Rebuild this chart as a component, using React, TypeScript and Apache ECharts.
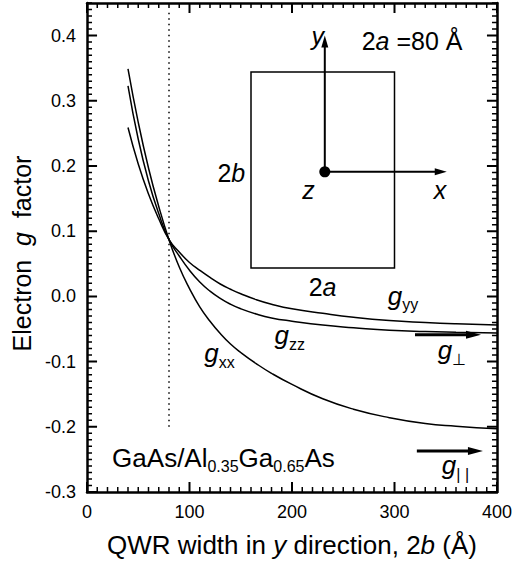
import React, { useEffect, useRef } from 'react';
import * as echarts from 'echarts';

// QWR width 2b (Å)
const widths = [40, 50, 60, 70, 80, 90, 100, 110, 120, 130, 140, 150, 165, 180, 200, 230, 260, 295, 330, 360, 400];
// electron g-factor components
const gxx = [0.349, 0.267, 0.197, 0.138, 0.087, 0.045, 0.012, -0.016, -0.038, -0.057, -0.073, -0.086, -0.103, -0.118, -0.135, -0.157, -0.173, -0.186, -0.195, -0.199, -0.203];
const gzz = [0.323, 0.241, 0.177, 0.127, 0.087, 0.062, 0.040, 0.022, 0.008, -0.003, -0.012, -0.019, -0.027, -0.033, -0.038, -0.044, -0.048, -0.052, -0.054, -0.055, -0.056];
const gyy = [0.259, 0.203, 0.157, 0.119, 0.087, 0.068, 0.052, 0.040, 0.029, 0.019, 0.011, 0.004, -0.005, -0.012, -0.019, -0.026, -0.032, -0.037, -0.040, -0.042, -0.044];
// reference width 2a = 80 Å (dotted line)
const refWidth = 80;
const refLineRange = [-0.2, 0.44];

// axes
const xMin = 0, xMax = 400, xStep = 100, xMinorStep = 10;
const yMin = -0.3, yMax = 0.45, yStep = 0.1, yMinorStep = 0.01;

const FONT = 'Liberation Sans, Arial, Helvetica, sans-serif';

export default function App() {
  const ref = useRef<HTMLDivElement>(null);
  useEffect(() => {
    if (!ref.current) return;
    const chart = echarts.init(ref.current, undefined, { renderer: 'svg' });

    // tick values (major / minor) derived from the axis steps
    const xMajorT: number[] = [], xMinorT: number[] = [], yMajorT: number[] = [], yMinorT: number[] = [];
    for (let k = 0; k <= Math.round((xMax - xMin) / xMinorStep); k++) {
      const v = xMin + k * xMinorStep;
      if (v % xStep === 0) xMajorT.push(v); else xMinorT.push(v);
    }
    for (let k = 0; k <= Math.round((yMax - yMin) / yMinorStep); k++) {
      const v = Math.round((yMin + k * yMinorStep) * 1000) / 1000;
      if (Math.abs(Math.round(v / yStep) * yStep - v) < 1e-6) yMajorT.push(v); else yMinorT.push(v);
    }

    // inward frame ticks as broken line segments (lengths in axis units: 10 px / 5 px)
    const tyL = 0.0155, tyS = 0.0078, txL = 9.8, txS = 4.9;
    const gap: any = ['-', '-'];
    const tickSegs = (xs: number[], ys: number[], dy: number, dx: number) => {
      const out: any[] = [];
      xs.forEach((v) => { out.push([v, yMin], [v, yMin + dy], gap, [v, yMax], [v, yMax - dy], gap); });
      ys.forEach((v) => { out.push([xMin, v], [xMin + dx, v], gap, [xMax, v], [xMax - dx, v], gap); });
      return out;
    };

    const lineW = 2.5;
    const xAxisDef = (pos: string, show: boolean) => ({
      type: 'value', min: xMin, max: xMax, interval: xStep, position: pos,
      axisLine: { show: true, onZero: false, lineStyle: { color: '#000', width: lineW } },
      axisTick: { show: false },
      minorTick: { show: false },
      splitLine: { show: false },
      axisLabel: { show, fontSize: 18, color: '#000', margin: 11, fontFamily: FONT },
    });
    const yAxisDef = (pos: string, show: boolean) => ({
      type: 'value', min: yMin, max: yMax, interval: yStep, position: pos,
      axisLine: { show: true, onZero: false, lineStyle: { color: '#000', width: lineW } },
      axisTick: { show: false },
      minorTick: { show: false },
      splitLine: { show: false },
      axisLabel: {
        show, fontSize: 18, color: '#000', margin: 11, fontFamily: FONT,
        formatter: (v: number) => (v > 0.41 ? '' : v.toFixed(1)),
      },
    });

    const curve = (data: number[]) => ({
      type: 'line', xAxisIndex: 0, yAxisIndex: 0,
      data: widths.map((w, i) => [w, data[i]]),
      smooth: true, showSymbol: false,
      lineStyle: { color: '#000', width: 1.5 },
    });

    const xName = {
      name: '{n|QWR width in }{i|y}{n| direction, 2}{i|b}{n| (Å)}',
      nameLocation: 'middle', nameGap: 40,
      nameTextStyle: {
        color: '#000', fontSize: 26, fontFamily: FONT,
        rich: { n: { fontSize: 26, fontFamily: FONT, color: '#000' }, i: { fontSize: 26, fontFamily: FONT, fontStyle: 'italic', color: '#000' } },
      },
    };
    const yName = {
      name: '{n|Electron  }{i|g}{n|  factor}{sp| }',
      nameLocation: 'middle', nameGap: 49,
      nameTextStyle: {
        color: '#000', fontSize: 25, fontFamily: FONT,
        rich: {
          n: { fontSize: 25, fontFamily: FONT, color: '#000' },
          i: { fontSize: 25, fontFamily: FONT, fontStyle: 'italic', color: '#000' },
          sp: { fontSize: 25, width: 12 },
        },
      },
    };

    // annotations drawn by a custom series through the axes' own coordinate system
    const renderNotes = (_params: any, api: any) => {
      const P = (x: number, y: number) => api.coord([x, y]) as number[];
      const arrow = (a: number[], b: number[], lw: number, hl: number, hw: number) => {
        const dx = b[0] - a[0], dy = b[1] - a[1];
        const L = Math.hypot(dx, dy);
        const ux = dx / L, uy = dy / L;
        const bx = b[0] - ux * hl, by = b[1] - uy * hl;
        return [
          { type: 'line', shape: { x1: a[0], y1: a[1], x2: b[0] - ux * hl * 0.7, y2: b[1] - uy * hl * 0.7 }, style: { stroke: '#000', lineWidth: lw, fill: null } },
          { type: 'polygon', shape: { points: [[b[0], b[1]], [bx - uy * hw, by + ux * hw], [bx + uy * hw, by - ux * hw]] }, style: { fill: '#000' } },
        ];
      };
      const richBase = {
        n: { fontSize: 25, fontFamily: FONT, fill: '#000' },
        i: { fontSize: 25, fontFamily: FONT, fontStyle: 'italic', fill: '#000' },
      };
      const txt = (x: number, y: number, text: string, align = 'center') => {
        const p = P(x, y);
        return {
          type: 'text', x: p[0], y: p[1],
          style: { text, align, verticalAlign: 'middle', fontSize: 25, fontFamily: FONT, fill: '#000', rich: richBase },
        };
      };
      const subTxt = (x: number, y: number, text: string, italic: boolean, size = 26) => {
        const p = P(x, y);
        const r = {
          m: { fontSize: size, lineHeight: size, fontFamily: FONT, fontStyle: italic ? 'italic' : 'normal', fill: '#000', verticalAlign: 'top' },
          s: { fontSize: 16, lineHeight: 16, fontFamily: FONT, fill: '#000', verticalAlign: 'top', padding: [14, 0, 0, 0] },
        };
        return {
          type: 'text', x: p[0], y: p[1],
          style: { text, align: 'left', verticalAlign: 'top', fontFamily: FONT, fill: '#000', rich: r },
        };
      };
      const r0 = P(160, 0.344), r1 = P(300, 0.0435);
      const dot = P(232, 0.191);
      const yTip = P(232, 0.40);
      const xTip = P(351, 0.191);
      const children: any[] = [
        { type: 'rect', shape: { x: r0[0], y: r0[1], width: r1[0] - r0[0], height: r1[1] - r0[1] }, style: { fill: null, stroke: '#000', lineWidth: 1.5 } },
        ...arrow(dot, yTip, 2, 12, 3.5),
        ...arrow(dot, xTip, 2, 12, 3.5),
        { type: 'circle', shape: { cx: dot[0], cy: dot[1], r: 5.5 }, style: { fill: '#000' } },
        txt(225, 0.399, '{i|y}'),
        txt(268, 0.3917, '{n|2}{i|a}{n| =80 Å}', 'left'),
        txt(344.3, 0.163, '{i|x}'),
        txt(216, 0.163, '{i|z}'),
        txt(140.8, 0.1893, '{n|2}{i|b}'),
        txt(229.8, 0.0144, '{n|2}{i|a}'),
        subTxt(293.4, 0.0206, '{m|g}{s|yy}', true),
        subTxt(182.9, -0.0393, '{m|g}{s|zz}', true),
        subTxt(114.4, -0.0669, '{m|g}{s|xx}', true),
        subTxt(342.3, -0.0623, '{m|g}{s|⊥}', true),
        subTxt(346.2, -0.2387, '{m|g}{s|| |}', true),
        subTxt(24.5, -0.2275, '{m|GaAs/Al}{s|0.35}{m|Ga}{s|0.65}{m|As}', false, 26),
        ...arrow(P(320, -0.059), P(384.4, -0.059), 3, 15, 4),
        ...arrow(P(321.8, -0.237), P(386.3, -0.237), 3, 15, 4),
      ];
      return { type: 'group', children };
    };

    chart.setOption({
      animation: false,
      grid: { left: 87, right: 29, top: 3, bottom: 80 },
      xAxis: [
        Object.assign(xAxisDef('bottom', true), xName),
        xAxisDef('top', false),
      ],
      yAxis: [
        Object.assign(yAxisDef('left', true), yName),
        yAxisDef('right', false),
      ],
      series: [
        curve(gxx), curve(gzz), curve(gyy),
        {
          type: 'line', xAxisIndex: 0, yAxisIndex: 0, showSymbol: false,
          data: [[refWidth, refLineRange[0]], [refWidth, refLineRange[1]]],
          lineStyle: { color: '#000', width: 1.5, type: [1.5, 4] },
        },
        {
          type: 'line', xAxisIndex: 0, yAxisIndex: 0, showSymbol: false, connectNulls: false, clip: false, z: 3,
          data: tickSegs(xMajorT, yMajorT, tyL, txL),
          lineStyle: { color: '#000', width: 2 },
        },
        {
          type: 'line', xAxisIndex: 0, yAxisIndex: 0, showSymbol: false, connectNulls: false, clip: false, z: 3,
          data: tickSegs(xMinorT, yMinorT, tyS, txS),
          lineStyle: { color: '#000', width: 1.5 },
        },
        {
          type: 'custom', xAxisIndex: 0, yAxisIndex: 0, silent: true, clip: false, z: 5,
          data: [[0, 0]], renderItem: renderNotes,
        },
      ],
    });

    return () => chart.dispose();
  }, []);
  return <div ref={ref} style={{ position: 'absolute', left: 0, top: 0, width: 526, height: 572, background: '#fff' }} />;
}
